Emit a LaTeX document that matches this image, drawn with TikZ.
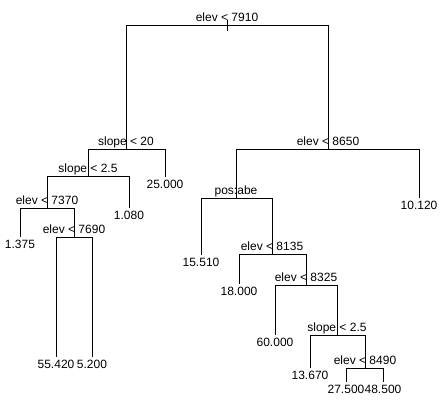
\documentclass[tikz,border=0pt]{standalone}
\usepackage{fontspec}
\setmainfont{Liberation Sans}
\begin{document}
\begin{tikzpicture}[x=1pt,y=-1pt,
  edge/.style={line width=0.9pt},
  splitlbl/.style={anchor=base,inner sep=0pt,yshift=3.5pt,font=\fontsize{12}{14}\selectfont},
  leaflbl/.style={anchor=base,inner sep=0pt,yshift=-11.5pt,font=\fontsize{12}{14}\selectfont}]
\useasboundingbox (0,0) rectangle (441,403);
% tree nodes
\coordinate (root) at (227,25);
\coordinate (rtop) at (227,20);
\coordinate (rbot) at (227,31);
\coordinate (a) at (126,149);
\coordinate (b) at (328,149);
\coordinate (a1) at (88,176);
\coordinate (a2) at (165,177);
\coordinate (a11) at (47,208);
\coordinate (a12) at (129,208);
\coordinate (a111) at (20,237);
\coordinate (a112) at (74,237);
\coordinate (a1121) at (56,357);
\coordinate (a1122) at (92,357);
\coordinate (b1) at (236,198);
\coordinate (b2) at (419,198);
\coordinate (b11) at (201,255);
\coordinate (b12) at (272,254);
\coordinate (b121) at (239,284);
\coordinate (b122) at (306,285);
\coordinate (b1221) at (275,335);
\coordinate (b1222) at (337,335);
\coordinate (b12221) at (310,368);
\coordinate (b12222) at (365,368);
\coordinate (b122221) at (346,382);
\coordinate (b122222) at (383,382);
% connectors
\draw[edge] (rtop) -- (rbot);
\draw[edge] (root) -| (a);
\draw[edge] (root) -| (b);
\draw[edge] (a) -| (a1);
\draw[edge] (a) -| (a2);
\draw[edge] (a1) -| (a11);
\draw[edge] (a1) -| (a12);
\draw[edge] (a11) -| (a111);
\draw[edge] (a11) -| (a112);
\draw[edge] (a112) -| (a1121);
\draw[edge] (a112) -| (a1122);
\draw[edge] (b) -| (b1);
\draw[edge] (b) -| (b2);
\draw[edge] (b1) -| (b11);
\draw[edge] (b1) -| (b12);
\draw[edge] (b12) -| (b121);
\draw[edge] (b12) -| (b122);
\draw[edge] (b122) -| (b1221);
\draw[edge] (b122) -| (b1222);
\draw[edge] (b1222) -| (b12221);
\draw[edge] (b1222) -| (b12222);
\draw[edge] (b12222) -| (b122221);
\draw[edge] (b12222) -| (b122222);
% split labels
\node[splitlbl] (lroot) at (root) {elev < 7910};
\node[splitlbl] (la) at (a) {slope < 20};
\node[splitlbl] (lb) at (b) {elev < 8650};
\node[splitlbl] (la1) at (a1) {slope < 2.5};
\node[splitlbl] (la11) at (a11) {elev < 7370};
\node[splitlbl] (la112) at (a112) {elev < 7690};
\node[splitlbl] (lb1) at (b1) {pos:abe};
\node[splitlbl] (lb12) at (b12) {elev < 8135};
\node[splitlbl] (lb122) at (b122) {elev < 8325};
\node[splitlbl] (lb1222) at (b1222) {slope < 2.5};
\node[splitlbl] (lb12222) at (b12222) {elev < 8490};
% leaf labels
\node[leaflbl] (la2) at (a2) {25.000};
\node[leaflbl] (la12) at (a12) {1.080};
\node[leaflbl] (la111) at (a111) {1.375};
\node[leaflbl] (la1121) at (a1121) {55.420};
\node[leaflbl] (la1122) at (a1122) {5.200};
\node[leaflbl] (lb2) at (b2) {10.120};
\node[leaflbl] (lb11) at (b11) {15.510};
\node[leaflbl] (lb121) at (b121) {18.000};
\node[leaflbl] (lb1221) at (b1221) {60.000};
\node[leaflbl] (lb12221) at (b12221) {13.670};
\node[leaflbl] (lb122221) at (b122221) {27.500};
\node[leaflbl] (lb122222) at (b122222) {48.500};
\end{tikzpicture}
\end{document}
